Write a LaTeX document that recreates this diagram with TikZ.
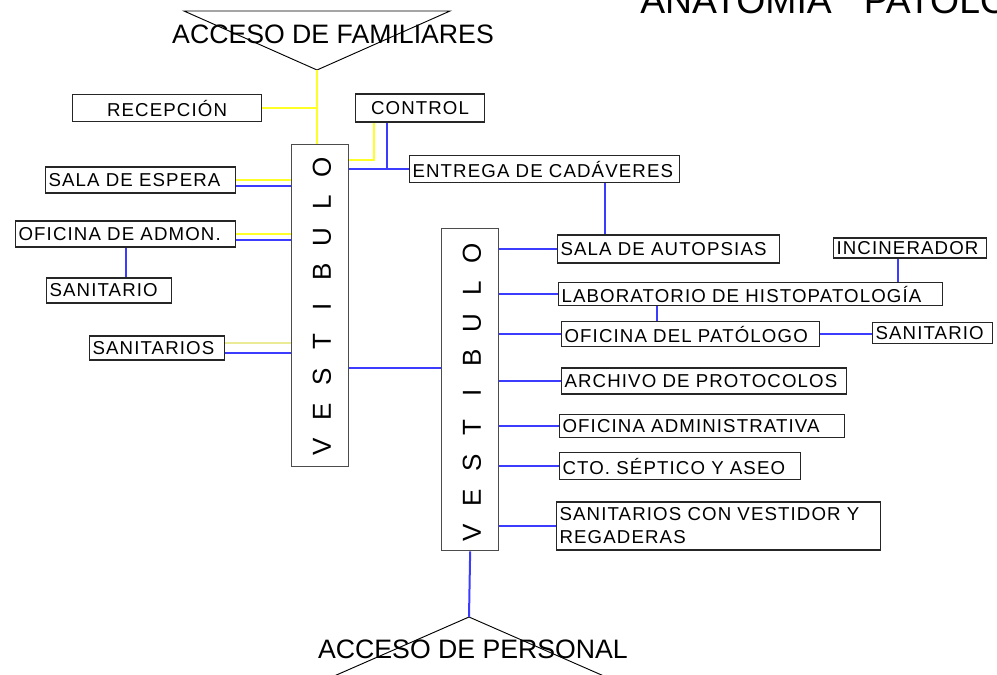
\documentclass[tikz,border=0pt]{standalone}
\usepackage{fontspec}
\setmainfont{Liberation Sans}
\newfontfamily\roomfont{Liberation Sans}[LetterSpace=6]
\usetikzlibrary{calc}
\definecolor{lineyellow}{RGB}{255,255,40}
\definecolor{paleyellow}{RGB}{235,235,150}
\definecolor{lineblue}{RGB}{60,60,255}
\tikzstyle{room} = [draw=black!85, line width=0.8pt, inner xsep=2.25pt, inner ysep=0pt, anchor=west, align=left, font=\roomfont\fontsize{14}{17.25}\selectfont]
\tikzstyle{hall} = [draw=black!70, line width=1pt, minimum width=42.75pt, minimum height=241.5pt, anchor=north west, inner sep=0pt]
\tikzstyle{letter} = [rotate=90, inner sep=0pt, font=\fontsize{19.5}{20}\selectfont]
\tikzstyle{access} = [anchor=base, inner sep=0pt, font=\fontsize{20}{24}\selectfont]
\tikzstyle{yel} = [draw=lineyellow, line width=1.5pt]
\tikzstyle{blu} = [draw=lineblue, line width=1.5pt]

\begin{document}
\begin{tikzpicture}[x=0.75pt,y=-0.75pt]
	\useasboundingbox (0,0) rectangle (997,675);
	\node[anchor=base west, inner sep=0pt, font=\fontsize{28}{30}\selectfont] (title) at (640,13) {ANATOMIA\hspace{24pt}PATOLOGIA};
	\coordinate (famL) at (184,11);
	\coordinate (famR) at (450,11);
	\coordinate (famtip) at (317,70);
	\draw[line width=0.7pt] (famL) -- (famR) -- (famtip) -- cycle;
	\node[access] (familiares) at (333,43) {ACCESO DE FAMILIARES};
	\coordinate (perL) at (325,680);
	\coordinate (perR) at (613,680);
	\coordinate (pertip) at (469,617);
	\draw[line width=0.7pt] (perL) -- (pertip) -- (perR);
	\node[access] (personal) at (473,658) {ACCESO DE PERSONAL};

	\node[hall] (ves1) at (291,144) {};
	\foreach \l [count=\i from 0] in {V,E,S,T,I,B,U,L,O}
	\node[letter] (ha\i) at (322,{447-35*\i}) {\l};
	\node[hall] (ves2) at (441,228) {};
	\foreach \l [count=\i from 0] in {V,E,S,T,I,B,U,L,O}
	\node[letter] (hb\i) at (472,{533-35*\i}) {\l};

	\node[room, text width=137.25pt, align=center, minimum height=20.25pt] (recep) at (72,108) {RECEPCIÓN};
	\node[room, text width=92.25pt, align=center, minimum height=21pt] (control) at (355,108) {CONTROL};
	\node[room, text width=198pt, minimum height=20.25pt] (entrega) at (409,169) {ENTREGA DE CADÁVERES};
	\node[room, text width=138pt, minimum height=19.5pt] (espera) at (45,180) {SALA DE ESPERA};
	\node[room, text width=160.5pt, minimum height=19.5pt] (admon) at (15,234) {OFICINA DE ADMON.};
	\node[room, text width=89.25pt, minimum height=18.75pt] (sanit1) at (46,290.5) {SANITARIO};
	\node[room, text width=96.75pt, minimum height=18pt] (sanitarios) at (89,348) {SANITARIOS};
	\node[room, text width=162pt, minimum height=21pt] (autopsias) at (557,249) {SALA DE AUTOPSIAS};
	\node[room, text width=110.25pt, minimum height=15pt] (incin) at (833,248) {INCINERADOR};
	\node[room, text width=283.5pt, minimum height=17.25pt] (labo) at (558,294) {LABORATORIO DE HISTOPATOLOGÍA};
	\node[room, text width=189pt, minimum height=18.75pt] (patologo) at (561,334) {OFICINA DEL PATÓLOGO};
	\node[room, text width=85.5pt, minimum height=15.75pt] (sanit2) at (872,333) {SANITARIO};
	\node[room, text width=209.25pt, minimum height=19.5pt] (archivo) at (561,381) {ARCHIVO DE PROTOCOLOS};
	\node[room, text width=209.25pt, minimum height=17.25pt] (ofadmin) at (559,426) {OFICINA ADMINISTRATIVA};
	\node[room, text width=176.25pt, minimum height=20.25pt] (cto) at (559,466) {CTO. SÉPTICO Y ASEO};
	\node[room, text width=238.5pt, minimum height=36pt] (vestidor) at (556,526) {SANITARIOS CON VESTIDOR Y\\REGADERAS};

	\draw[yel] (famtip) -- (famtip |- ves1.north);
	\draw[yel] (recep.east) -- (recep.east -| famtip);
	\coordinate (ctrlyel) at ($(control.south west)+(19,0)$);
	\coordinate (ctrlblu) at ($(control.south west)+(32,0)$);
	\draw[yel] (ves1.east |- 0,160) -| (ctrlyel);
	\draw[blu] (ctrlblu) -- (ctrlblu |- entrega.west);
	\draw[blu] (ves1.east |- entrega.west) -- (entrega.west);
	\draw[yel] (espera.east) -- (espera.east -| ves1.west);
	\draw[blu] ($(espera.east)+(0,6)$) -- ($(espera.east -| ves1.west)+(0,6)$);
	\draw[yel] (admon.east) -- (admon.east -| ves1.west);
	\draw[blu] ($(admon.east)+(0,6)$) -- ($(admon.east -| ves1.west)+(0,6)$);
	\draw[blu] (admon.south -| 126,0) -- (sanit1.north -| 126,0);
	\draw[draw=paleyellow, line width=1.5pt] ($(sanitarios.east)+(0,-5)$) -- ($(sanitarios.east -| ves1.west)+(0,-5)$);
	\draw[blu] ($(sanitarios.east)+(0,5)$) -- ($(sanitarios.east -| ves1.west)+(0,5)$);
	\draw[blu] (ves1.east |- 0,368) -- (ves2.west |- 0,368);

	\foreach \r in {autopsias,labo,patologo,archivo,ofadmin,cto,vestidor}
	\draw[blu] (ves2.east |- \r.west) -- (\r.west);
	\draw[blu] (entrega.south -| 605,0) -- (autopsias.north -| 605,0);
	\draw[blu] (incin.south -| 898,0) -- (labo.north -| 898,0);
	\draw[blu] (labo.south -| 657,0) -- (patologo.north -| 657,0);
	\draw[blu] (patologo.east) -- (patologo.east -| sanit2.west);
	\draw[blu] (ves2.south) -- (pertip);
\end{tikzpicture}
\end{document}
